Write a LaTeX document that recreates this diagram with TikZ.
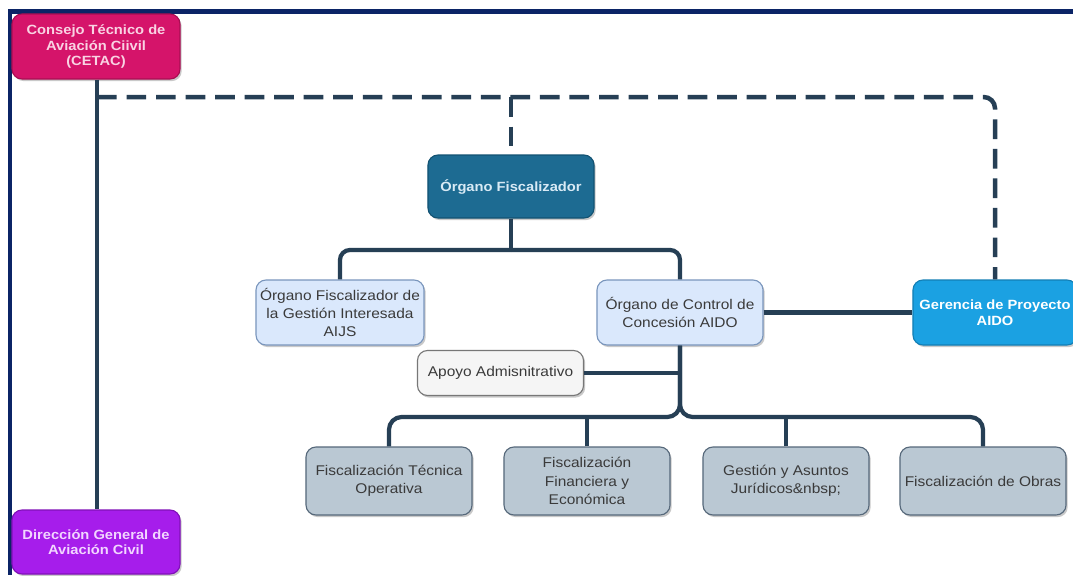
\documentclass[tikz,border=0pt]{standalone}
\usepackage{fontspec}
\setmainfont[FakeStretch=1.1]{Liberation Sans}
\usetikzlibrary{shadows}
\definecolor{frameblue}{HTML}{0B2466}
\definecolor{linecol}{HTML}{263F55}
\definecolor{cetacfill}{HTML}{D5146A}
\definecolor{cetacdraw}{HTML}{A80E52}
\definecolor{cetactext}{HTML}{F9D3E3}
\definecolor{dirfill}{HTML}{A61DEB}
\definecolor{dirdraw}{HTML}{8010B8}
\definecolor{dirtext}{HTML}{F2D6FF}
\definecolor{offill}{HTML}{1D6B92}
\definecolor{ofdraw}{HTML}{125272}
\definecolor{oftext}{HTML}{D8EAF5}
\definecolor{gerfill}{HTML}{1BA1E2}
\definecolor{gerdraw}{HTML}{137FB5}
\definecolor{lbfill}{HTML}{DAE8FC}
\definecolor{lbdraw}{HTML}{7A96BD}
\definecolor{apfill}{HTML}{F5F5F5}
\definecolor{apdraw}{HTML}{777777}
\definecolor{grfill}{HTML}{BAC8D3}
\definecolor{grdraw}{HTML}{56687A}
\definecolor{txt}{HTML}{3A3A3A}
\begin{document}
\begin{tikzpicture}[x=0.025cm,y=-0.025cm,
  box/.style={rounded corners=0.25cm, line width=0.8pt, align=center, inner sep=2pt,
    drop shadow={shadow xshift=1.2pt, shadow yshift=-1.5pt, opacity=0.35, fill=black!60}},
  boldbox/.style={box, font=\fontsize{9.5}{11}\selectfont\bfseries},
  plainbox/.style={box, font=\fontsize{10}{13}\selectfont, text=txt},
  lightbox/.style={plainbox, fill=lbfill, draw=lbdraw, minimum width=4.2cm, minimum height=1.625cm},
  greybox/.style={plainbox, fill=grfill, draw=grdraw, minimum width=4.15cm, minimum height=1.7cm},
  conn/.style={draw=linecol, line width=3pt},
  dashconn/.style={draw=linecol, line width=3.2pt, dash pattern=on 14pt off 7pt}]
\useasboundingbox (0,0) rectangle (1073,575);
\fill[white] (0,0) rectangle (1073,575);
% frame
\draw[frameblue, line width=2.9pt] (1073,11.5) -- (10,11.5) -- (10,575);

% nodes
\node[boldbox, fill=cetacfill, draw=cetacdraw, text=cetactext, minimum width=4.2cm, minimum height=1.625cm]
  (cetac) at (96,46.5) {Consejo Técnico de\\Aviación Ciivil\\(CETAC)};
\node[boldbox, fill=dirfill, draw=dirdraw, text=dirtext, minimum width=4.2cm, minimum height=1.6cm]
  (dir) at (96,542) {Dirección General de\\Aviación Civil};
\node[boldbox, fill=offill, draw=ofdraw, text=oftext, minimum width=4.15cm, minimum height=1.575cm]
  (of) at (511,186.5) {Órgano Fiscalizador};
\node[lightbox] (aijs) at (340,312.5) {Órgano Fiscalizador de\\la Gestión Interesada\\AIJS};
\node[lightbox, minimum width=4.15cm] (control) at (680,312.5) {Órgano de Control de\\Concesión AIDO};
\node[boldbox, fill=gerfill, draw=gerdraw, text=white, minimum width=4.1cm, minimum height=1.625cm]
  (ger) at (995,312.5) {Gerencia de Proyecto\\AIDO};
\node[plainbox, fill=apfill, draw=apdraw, minimum width=4.15cm, minimum height=1.125cm]
  (apoyo) at (500.5,373) {Apoyo Admisnitrativo};
\node[greybox] (ft) at (389,481) {Fiscalización Técnica\\Operativa};
\node[greybox] (ff) at (587,481) {Fiscalización\\Financiera y\\Económica};
\node[greybox] (gj) at (786,481) {Gestión y Asuntos\\Jurídicos\&nbsp;};
\node[greybox] (ob) at (983,481) {Fiscalización de Obras};

% coordinates
\coordinate (dj) at (97,97);
\coordinate (dof) at (511,97);
\coordinate (ofb) at (511,250);
\coordinate (bus) at (680,417);

% connectors
\draw[conn] (cetac.south -| dj) -- (dir.north -| dj);
\draw[dashconn, rounded corners=8] (dj) -| (ger.north);
\draw[dashconn] (dof) -- (of.north);
\draw[conn] (of.south) -- (ofb);
\draw[conn, rounded corners=7] (ofb) -| (aijs.north);
\draw[conn, rounded corners=7] (ofb) -| (control.north);
\draw[conn] (control.east) -- (ger.west);
\draw[conn] (apoyo.east) -- (apoyo.east -| control.south);
\draw[conn, rounded corners=9] (control.south) -- (bus) -| (ft.north);
\draw[conn, rounded corners=9] (control.south) -- (bus) -| (ob.north);
\draw[conn] (ff.north) -- (ff.north |- bus);
\draw[conn] (gj.north) -- (gj.north |- bus);
\end{tikzpicture}
\end{document}
